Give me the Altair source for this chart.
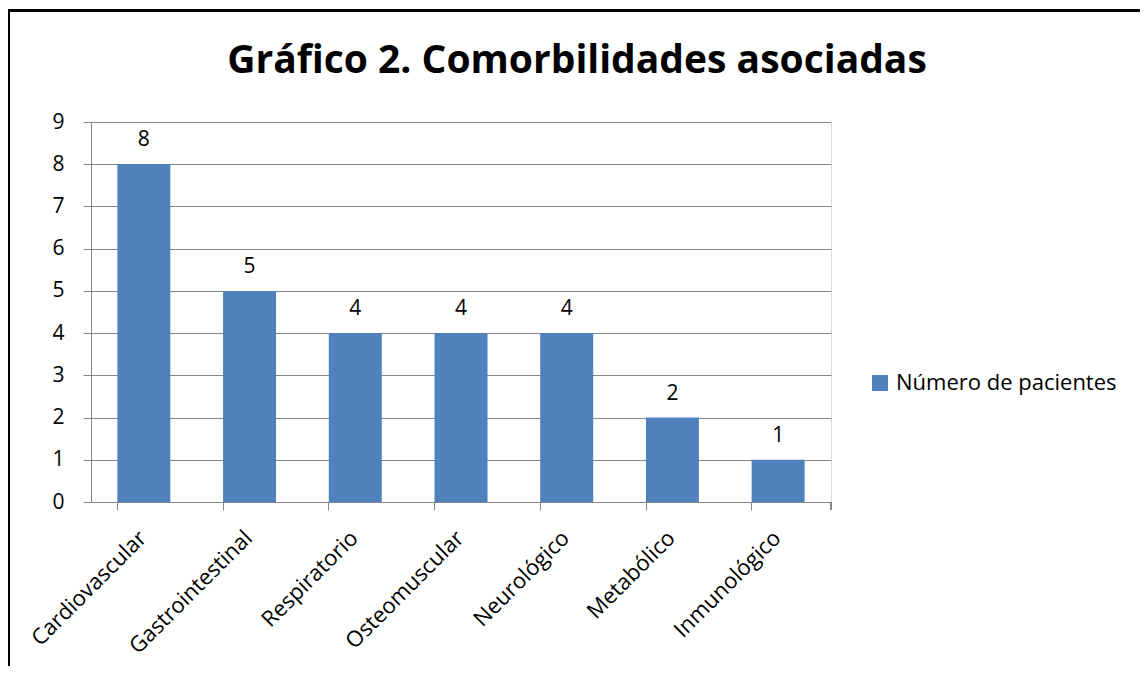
import altair as alt
import pandas as pd

categorias = ["Cardiovascular", "Gastrointestinal", "Respiratorio", "Osteomuscular",
              "Neurológico", "Metabólico", "Inmunológico"]
pacientes = [8, 5, 4, 4, 4, 2, 1]
serie = "Número de pacientes"
titulo = "Gráfico 2. Comorbilidades asociadas"

df = pd.DataFrame({"categoria": categorias, "valor": pacientes, "serie": [serie] * len(categorias)})

FONT = "Open Sans"
GRID = "#868686"
BLUE = "#4F81BD"
FS = 21

W, H = 740, 380

x_enc = alt.X("categoria:N", sort=categorias, title=None,
              scale=alt.Scale(paddingInner=0.5, paddingOuter=0.25),
              axis=alt.Axis(labelAngle=-45, labelAlign="right", labelBaseline="top",
                            labelFontSize=22, labelFont=FONT, labelColor="black",
                            labelPadding=17, tickSize=8, tickColor=GRID, domainColor=GRID,
                            bandPosition=0, ticks=True, grid=False, labelOffset=-8,
                            labelLimit=400))
y_enc = alt.Y("valor:Q", title=None,
              scale=alt.Scale(domain=[0, 9], nice=False),
              axis=alt.Axis(values=list(range(10)), labelFontSize=FS, labelFont=FONT,
                            labelColor="black", labelPadding=19, tickSize=8, tickColor=GRID,
                            domainColor=GRID, gridColor=GRID, grid=True, gridOpacity=1))

bars = alt.Chart(df).mark_bar(size=53).encode(
    x=x_enc, y=y_enc,
    color=alt.Color("serie:N", scale=alt.Scale(range=[BLUE]), title=None,
                    legend=alt.Legend(orient="none", legendX=778, legendY=250,
                                      symbolType="square", symbolSize=256,
                                      symbolStrokeWidth=0, labelFontSize=22, labelFont=FONT,
                                      labelColor="black", symbolOffset=0, labelOffset=5,
                                      labelLimit=400, padding=0)),
)

labels = alt.Chart(df).mark_text(dy=-24, fontSize=FS, font=FONT, color="black").encode(
    x=alt.X("categoria:N", sort=categorias),
    y="valor:Q",
    text="valor:Q",
)

title_mark = alt.Chart(pd.DataFrame({"t": [titulo]})).mark_text(
    fontSize=39, font=FONT, fontWeight="bold", color="black", align="center", baseline="alphabetic"
).encode(x=alt.value(486), y=alt.value(-49), text="t:N")

end_tick = alt.Chart(df).mark_rule(color=GRID).encode(
    x=alt.value(W), y=alt.value(H), y2=alt.value(H + 8)
)

border_top = alt.Chart(df).mark_rule(color="black", strokeWidth=3).encode(
    x=alt.value(-85), x2=alt.value(1050), y=alt.value(-111.5)
)
border_left = alt.Chart(df).mark_rule(color="black", strokeWidth=4).encode(
    x=alt.value(-83), y=alt.value(-113), y2=alt.value(H + 200)
)

chart = alt.layer(bars, labels, title_mark, end_tick, border_top, border_left).properties(
    width=W, height=H,
    autosize=alt.AutoSizeParams(type="none"),
    padding={"left": 83, "top": 114, "right": 309, "bottom": 164},
).configure_view(stroke=None).configure(background="white")

chart.save("out.html", embed_options={"renderer": "svg", "actions": False})
